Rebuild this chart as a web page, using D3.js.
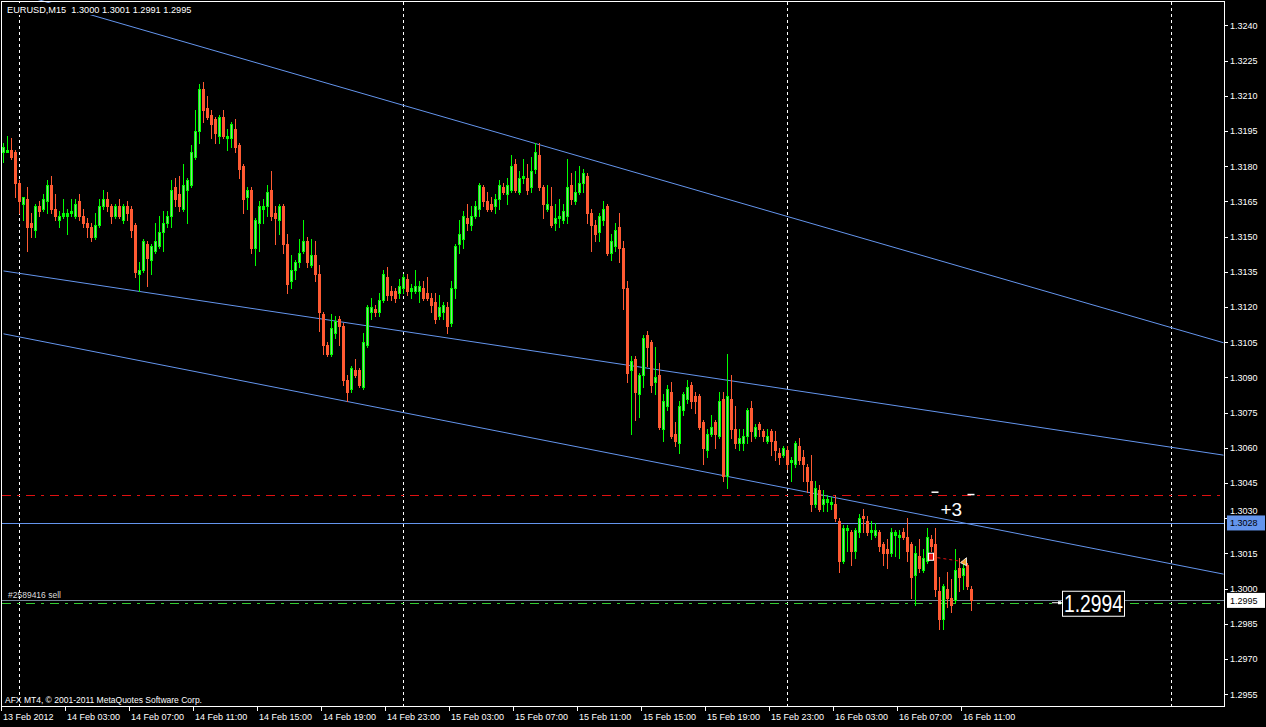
<!DOCTYPE html>
<html><head><meta charset="utf-8">
<script src="https://cdn.jsdelivr.net/npm/d3@7"></script>
<style>html,body{margin:0;padding:0;background:#000;overflow:hidden}</style>
</head><body><svg id="c" width="1266" height="727"></svg>
<script>
// ---- DATA (EURUSD M15, bar 0 = 13 Feb 2012 23:00) ----
const symbolName = "EURUSD,M15";
const openP = [1.3186,1.3186,1.3187,1.3186,1.3173,1.3164,1.3166,1.3156,1.3153,1.3163,
1.3162,1.3165,1.3172,1.3162,1.3157,1.3159,1.3159,1.3160,1.3159,1.3165,
1.3159,1.3156,1.3154,1.3150,1.3155,1.3163,1.3166,1.3163,1.3159,1.3163,
1.3157,1.3163,1.3162,1.3155,1.3134,1.3136,1.3147,1.3140,1.3144,1.3146,
1.3152,1.3156,1.3159,1.3171,1.3168,1.3162,1.3170,1.3172,1.3184,1.3195,
1.3213,1.3205,1.3202,1.3200,1.3193,1.3201,1.3192,1.3192,1.3196,1.3189,
1.3180,1.3167,1.3170,1.3145,1.3156,1.3162,1.3163,1.3170,1.3160,1.3157,
1.3163,1.3147,1.3131,1.3136,1.3139,1.3144,1.3148,1.3138,1.3142,1.3134,
1.3117,1.3104,1.3100,1.3109,1.3115,1.3112,1.3089,1.3085,1.3093,1.3093,
1.3086,1.3104,1.3118,1.3119,1.3118,1.3123,1.3133,1.3127,1.3127,1.3126,
1.3128,1.3132,1.3127,1.3127,1.3127,1.3128,1.3126,1.3124,1.3122,1.3116,
1.3118,1.3120,1.3113,1.3128,1.3147,1.3149,1.3158,1.3155,1.3159,1.3162,
1.3171,1.3165,1.3164,1.3163,1.3166,1.3171,1.3168,1.3170,1.3181,1.3169,
1.3175,1.3175,1.3171,1.3179,1.3185,1.3171,1.3162,1.3163,1.3156,1.3158,
1.3157,1.3159,1.3172,1.3165,1.3169,1.3173,1.3176,1.3160,1.3155,1.3152,
1.3157,1.3163,1.3143,1.3146,1.3154,1.3145,1.3128,1.3093,1.3098,1.3083,
1.3091,1.3108,1.3105,1.3088,1.3091,1.3068,1.3078,1.3084,1.3066,1.3062,
1.3076,1.3081,1.3087,1.3082,1.3082,1.3071,1.3059,1.3066,1.3071,1.3065,
1.3081,1.3048,1.3081,1.3068,1.3062,1.3062,1.3065,1.3077,1.3065,1.3070,
1.3067,1.3063,1.3067,1.3063,1.3058,1.3057,1.3059,1.3054,1.3053,1.3061,
1.3056,1.3052,1.3046,1.3036,1.3042,1.3036,1.3037,1.3036,1.3036,1.3029,
1.3012,1.3025,1.3024,1.3016,1.3024,1.3031,1.3029,1.3024,1.3023,1.3024,
1.3019,1.3017,1.3015,1.3023,1.3022,1.3024,1.3022,1.3019,1.3006,1.3014,
1.3008,1.3012,1.3021,1.3019,1.2999,1.2987,1.3000,1.2996,1.2995,1.3009,
1.3006,1.3010,1.3000];
const highP = [1.3190,1.3193,1.3192,1.3187,1.3174,1.3167,1.3171,1.3160,1.3164,1.3165,
1.3168,1.3174,1.3176,1.3168,1.3161,1.3166,1.3162,1.3166,1.3166,1.3168,
1.3162,1.3158,1.3156,1.3160,1.3166,1.3170,1.3169,1.3164,1.3164,1.3166,
1.3164,1.3165,1.3163,1.3156,1.3139,1.3149,1.3148,1.3147,1.3156,1.3159,
1.3161,1.3161,1.3174,1.3175,1.3176,1.3181,1.3175,1.3189,1.3204,1.3215,
1.3216,1.3210,1.3204,1.3201,1.3202,1.3204,1.3196,1.3199,1.3200,1.3190,
1.3181,1.3171,1.3171,1.3158,1.3165,1.3166,1.3172,1.3178,1.3163,1.3164,
1.3164,1.3151,1.3142,1.3140,1.3149,1.3157,1.3150,1.3149,1.3148,1.3138,
1.3118,1.3105,1.3117,1.3116,1.3116,1.3113,1.3091,1.3095,1.3098,1.3094,
1.3109,1.3121,1.3124,1.3121,1.3126,1.3136,1.3137,1.3129,1.3128,1.3132,
1.3134,1.3134,1.3130,1.3136,1.3131,1.3131,1.3133,1.3126,1.3126,1.3125,
1.3122,1.3122,1.3131,1.3147,1.3157,1.3161,1.3164,1.3163,1.3165,1.3173,
1.3172,1.3169,1.3167,1.3168,1.3174,1.3173,1.3175,1.3185,1.3183,1.3178,
1.3183,1.3181,1.3184,1.3190,1.3190,1.3172,1.3172,1.3171,1.3164,1.3166,
1.3164,1.3183,1.3177,1.3178,1.3180,1.3179,1.3177,1.3162,1.3157,1.3160,
1.3165,1.3164,1.3151,1.3156,1.3160,1.3148,1.3131,1.3099,1.3099,1.3092,
1.3108,1.3110,1.3106,1.3103,1.3096,1.3083,1.3087,1.3088,1.3071,1.3080,
1.3084,1.3089,1.3088,1.3084,1.3083,1.3072,1.3068,1.3074,1.3072,1.3084,
1.3084,1.3100,1.3091,1.3078,1.3068,1.3068,1.3077,1.3080,1.3070,1.3071,
1.3068,1.3068,1.3068,1.3067,1.3060,1.3061,1.3061,1.3056,1.3063,1.3064,
1.3059,1.3053,1.3057,1.3046,1.3044,1.3042,1.3040,1.3039,1.3040,1.3030,
1.3027,1.3027,1.3025,1.3026,1.3032,1.3034,1.3031,1.3029,1.3028,1.3025,
1.3020,1.3021,1.3026,1.3025,1.3025,1.3026,1.3030,1.3020,1.3018,1.3021,
1.3017,1.3026,1.3023,1.3026,1.3005,1.3002,1.3007,1.3004,1.3017,1.3013,
1.3012,1.3011,1.3001];
const lowP = [1.3182,1.3186,1.3183,1.3167,1.3160,1.3157,1.3144,1.3150,1.3150,1.3159,
1.3161,1.3160,1.3160,1.3157,1.3154,1.3158,1.3151,1.3159,1.3158,1.3157,
1.3154,1.3150,1.3148,1.3149,1.3154,1.3162,1.3161,1.3156,1.3158,1.3158,
1.3156,1.3157,1.3150,1.3133,1.3127,1.3135,1.3129,1.3134,1.3143,1.3145,
1.3144,1.3154,1.3154,1.3163,1.3161,1.3161,1.3156,1.3171,1.3183,1.3190,
1.3199,1.3200,1.3192,1.3190,1.3190,1.3192,1.3187,1.3188,1.3186,1.3175,
1.3160,1.3162,1.3143,1.3138,1.3144,1.3156,1.3159,1.3157,1.3147,1.3151,
1.3143,1.3126,1.3128,1.3132,1.3137,1.3143,1.3137,1.3137,1.3131,1.3110,
1.3100,1.3099,1.3099,1.3107,1.3104,1.3087,1.3080,1.3084,1.3090,1.3086,
1.3085,1.3103,1.3115,1.3116,1.3116,1.3122,1.3123,1.3123,1.3122,1.3124,
1.3126,1.3125,1.3124,1.3126,1.3122,1.3123,1.3123,1.3118,1.3113,1.3115,
1.3115,1.3109,1.3112,1.3124,1.3143,1.3145,1.3153,1.3153,1.3158,1.3159,
1.3163,1.3161,1.3161,1.3160,1.3162,1.3168,1.3164,1.3169,1.3169,1.3168,
1.3173,1.3168,1.3169,1.3177,1.3170,1.3158,1.3161,1.3154,1.3153,1.3154,
1.3156,1.3156,1.3164,1.3164,1.3168,1.3169,1.3156,1.3144,1.3148,1.3148,
1.3155,1.3142,1.3140,1.3144,1.3139,1.3119,1.3088,1.3066,1.3072,1.3073,
1.3086,1.3095,1.3084,1.3083,1.3068,1.3063,1.3076,1.3064,1.3061,1.3058,
1.3074,1.3079,1.3077,1.3075,1.3068,1.3053,1.3056,1.3065,1.3060,1.3064,
1.3046,1.3043,1.3064,1.3060,1.3059,1.3059,1.3062,1.3063,1.3064,1.3065,
1.3063,1.3062,1.3057,1.3055,1.3053,1.3056,1.3051,1.3046,1.3052,1.3053,
1.3046,1.3041,1.3033,1.3035,1.3033,1.3033,1.3033,1.3034,1.3029,1.3007,
1.3011,1.3016,1.3010,1.3013,1.3022,1.3024,1.3023,1.3021,1.3022,1.3016,
1.3010,1.3009,1.3014,1.3014,1.3013,1.3021,1.3012,1.2996,1.2993,1.3007,
1.3007,1.3011,1.3016,1.2997,1.2983,1.2983,1.2992,1.2990,1.2994,1.2999,
1.3000,1.3000,1.2991];
const closeP = [1.3188,1.3187,1.3184,1.3173,1.3165,1.3167,1.3154,1.3154,1.3163,1.3161,
1.3166,1.3172,1.3162,1.3159,1.3159,1.3160,1.3160,1.3161,1.3164,1.3159,
1.3156,1.3154,1.3150,1.3155,1.3163,1.3166,1.3163,1.3159,1.3163,1.3159,
1.3163,1.3160,1.3153,1.3135,1.3136,1.3148,1.3141,1.3146,1.3148,1.3152,
1.3156,1.3159,1.3170,1.3166,1.3163,1.3172,1.3174,1.3186,1.3195,1.3213,
1.3204,1.3201,1.3198,1.3194,1.3201,1.3193,1.3193,1.3198,1.3188,1.3179,
1.3166,1.3170,1.3145,1.3157,1.3163,1.3163,1.3169,1.3159,1.3158,1.3163,
1.3147,1.3130,1.3136,1.3139,1.3143,1.3148,1.3139,1.3142,1.3134,1.3118,
1.3104,1.3100,1.3111,1.3114,1.3112,1.3089,1.3084,1.3094,1.3091,1.3087,
1.3105,1.3120,1.3120,1.3118,1.3123,1.3134,1.3125,1.3125,1.3124,1.3129,
1.3133,1.3127,1.3128,1.3129,1.3129,1.3124,1.3124,1.3121,1.3115,1.3120,
1.3121,1.3112,1.3128,1.3146,1.3151,1.3159,1.3156,1.3159,1.3163,1.3172,
1.3165,1.3162,1.3162,1.3166,1.3172,1.3169,1.3172,1.3180,1.3170,1.3175,
1.3176,1.3170,1.3178,1.3186,1.3171,1.3164,1.3164,1.3155,1.3158,1.3159,
1.3161,1.3171,1.3166,1.3169,1.3173,1.3177,1.3160,1.3155,1.3151,1.3159,
1.3162,1.3143,1.3148,1.3153,1.3145,1.3128,1.3092,1.3097,1.3084,1.3091,
1.3107,1.3103,1.3087,1.3090,1.3069,1.3080,1.3085,1.3065,1.3063,1.3078,
1.3083,1.3086,1.3080,1.3080,1.3069,1.3060,1.3066,1.3069,1.3066,1.3080,
1.3048,1.3082,1.3068,1.3062,1.3064,1.3065,1.3076,1.3067,1.3069,1.3068,
1.3065,1.3065,1.3063,1.3059,1.3056,1.3060,1.3053,1.3055,1.3062,1.3055,
1.3053,1.3046,1.3036,1.3043,1.3034,1.3038,1.3038,1.3037,1.3030,1.3012,
1.3026,1.3026,1.3016,1.3025,1.3030,1.3030,1.3024,1.3025,1.3025,1.3018,
1.3015,1.3015,1.3024,1.3024,1.3023,1.3022,1.3016,1.3005,1.3015,1.3009,
1.3013,1.3022,1.3018,1.3000,1.2987,1.3001,1.2996,1.2993,1.3008,1.3005,
1.3009,1.3001,1.2995];

const timeLabels = ["13 Feb 2012","14 Feb 03:00","14 Feb 07:00","14 Feb 11:00","14 Feb 15:00","14 Feb 19:00","14 Feb 23:00","15 Feb 03:00","15 Feb 07:00","15 Feb 11:00","15 Feb 15:00","15 Feb 19:00","15 Feb 23:00","16 Feb 03:00","16 Feb 07:00","16 Feb 11:00"];
const timeLabelBars = [0,16,32,48,64,80,96,112,128,144,160,176,192,208,224,240];
const gridBars = [4,100,196,292];
const priceTicks = [1.3240,1.3225,1.3210,1.3195,1.3180,1.3165,1.3150,1.3135,1.3120,1.3105,1.3090,1.3075,1.3060,1.3045,1.3030,1.3015,1.3000,1.2985,1.2970,1.2955];

// trend lines: start/end bar and price
const trendStartBar = [0,0,0];
const trendStartPrice = [1.32553,1.31354,1.31086];
const trendEndBar = [305,305,305];
const trendEndPrice = [1.31048,1.30569,1.30062];

const hlinePrice = 1.3028;      // horizontal line object
const stopPrice = 1.3040;       // red dash-dot
const orderPrice = 1.2994;      // sell order line
const bidPrice = 1.2995;        // bid line
const orderLabel = "#2589416 sell";
const profitText = "+3";
const textObjPrice = 1.2994;
// closed trade
const tradeBars = [232,240];
const tradePrices = [1.30136,1.30115];

// ---- LAYOUT ----
const W=1266, H=727;
const L=2, R=1224, T=2, B=706;
const x = d3.scaleLinear().domain([0,305]).range([3.5,1223.5]);
const y = d3.scaleLinear().domain([1.2950,1.3250]).range([B,T]);
const fmt = d3.format(".4f");
const FONT = "'Liberation Sans', Arial, sans-serif";
const BLUE = "#6495ED", RED="#ff5a32", GREEN="#00ff00";

const svg = d3.select("#c");
svg.append("rect").attr("width",W).attr("height",H).attr("fill","#000");
svg.append("defs").append("clipPath").attr("id","plot")
  .append("rect").attr("x",L).attr("y",0).attr("width",R-L).attr("height",B);

const g = svg.append("g").attr("clip-path","url(#plot)");

// grid
g.selectAll(".grid").data(gridBars).join("line")
  .attr("x1",d=>x(d)).attr("x2",d=>x(d)).attr("y1",T).attr("y2",B)
  .attr("stroke","#fff").attr("stroke-dasharray","3,3").attr("shape-rendering","crispEdges");

// horizontal lines
function hline(p,color,dash){
  g.append("line").attr("x1",L).attr("x2",R).attr("y1",Math.round(y(p))+0.5).attr("y2",Math.round(y(p))+0.5)
   .attr("stroke",color).attr("stroke-dasharray",dash||null).attr("shape-rendering","crispEdges");
}
hline(stopPrice,"#e01010","9,6,3,6");
hline(hlinePrice,BLUE);
hline(bidPrice,"#778899");
hline(orderPrice,"#32cd32","9,6,3,6");

// trend lines
g.selectAll(".trend").data(d3.range(trendStartBar.length)).join("line")
  .attr("x1",i=>x(trendStartBar[i])).attr("y1",i=>y(trendStartPrice[i]))
  .attr("x2",i=>x(trendEndBar[i])).attr("y2",i=>y(trendEndPrice[i]))
  .attr("stroke",BLUE).attr("stroke-width",1);

// candles
const bars = d3.range(openP.length).map(i=>({i,o:openP[i],h:highP[i],l:lowP[i],c:closeP[i]}));
const cg = g.append("g").attr("shape-rendering","crispEdges");
bars.forEach(d=>{
  const up = d.c>=d.o;
  const col = up?GREEN:RED;
  const cx = x(d.i);
  cg.append("line").attr("x1",cx).attr("x2",cx).attr("y1",y(d.h)).attr("y2",y(d.l)+1).attr("stroke",col);
  const top = y(Math.max(d.o,d.c)), bot = y(Math.min(d.o,d.c));
  const hgt = Math.max(1,bot-top);
  cg.append("rect").attr("x",cx-1.5).attr("y",top).attr("width",3).attr("height",hgt+ (hgt>1?1:0)).attr("fill",col);
  if(up && hgt>3){
    cg.append("rect").attr("x",cx-0.5).attr("y",top+1).attr("width",1).attr("height",hgt-1).attr("fill","#8fd08f");
  }
});

// closed trade
g.append("line").attr("x1",x(tradeBars[0])).attr("y1",y(tradePrices[0]))
  .attr("x2",x(tradeBars[1])).attr("y2",y(tradePrices[1]))
  .attr("stroke","#e01010").attr("stroke-dasharray","3,3");
g.append("rect").attr("x",x(tradeBars[0])-3).attr("y",y(tradePrices[0])-3.5).attr("width",5).attr("height",7)
  .attr("fill","#e01010").attr("stroke","#fff").attr("stroke-width",1);
g.append("path").attr("d",()=>{const cx=x(tradeBars[1])+1, cy=y(tradePrices[1]);return `M${cx-4},${cy+1}L${cx+2},${cy-4}L${cx+2},${cy+4}Z`;})
  .attr("fill","#f0a030").attr("stroke","#fff").attr("stroke-width",0.8);
// stop-level markers
[[tradeBars[0],stopPrice+0.0001],[tradeBars[1]+1,stopPrice]].forEach(([b,p])=>{
  g.append("rect").attr("x",x(b)).attr("y",y(p)-1).attr("width",7).attr("height",1.5).attr("fill","#fff");
});

// texts inside chart
g.append("text").attr("x",x(234)+1).attr("y",y(1.3031)).attr("fill","#fff")
  .attr("font-family",FONT).attr("font-size",19).text(profitText);

svg.append("text").attr("x",8).attr("y",y(orderPrice)-5).attr("fill","#ddd")
  .attr("font-family",FONT).attr("font-size",8.5).text(orderLabel);

// text object 1.2994
const ty = y(textObjPrice);
svg.append("line").attr("x1",1052).attr("x2",1062).attr("y1",ty).attr("y2",ty).attr("stroke","#fff");
svg.append("rect").attr("x",1058).attr("y",ty-1.5).attr("width",3).attr("height",3).attr("fill","#fff");
svg.append("rect").attr("x",1062.5).attr("y",ty-11.5).attr("width",62).attr("height",25)
  .attr("fill","#000").attr("stroke","#fff");
svg.append("text").attr("x",1064).attr("y",ty+9.5).attr("fill","#fff")
  .attr("font-family",FONT).attr("font-size",23)
  .attr("textLength",59).attr("lengthAdjust","spacingAndGlyphs")
  .text(fmt(textObjPrice));

// header
const last = bars[bars.length-1];
svg.append("rect").attr("x",5).attr("y",3).attr("width",189).attr("height",12).attr("fill","#000");
svg.append("text").attr("x",7).attr("y",13).attr("fill","#fff").attr("font-family",FONT).attr("font-size",9.2)
  .attr("xml:space","preserve")
  .text(`${symbolName}  ${fmt(last.o)} ${fmt(last.h)} ${fmt(last.l)} ${fmt(last.c)}`);

// copyright
svg.append("text").attr("x",5).attr("y",703).attr("fill","#fff").attr("font-family",FONT).attr("font-size",8.5)
  .text("AFX MT4, © 2001-2011 MetaQuotes Software Corp.");

// frame
svg.append("rect").attr("x",L-0.5).attr("y",T-0.5).attr("width",R-L+1).attr("height",B-T+1)
  .attr("fill","none").attr("stroke","#fff").attr("shape-rendering","crispEdges");

// price axis (labels hidden behind a price box are shifted out of its way)
const boxPrices = [hlinePrice,bidPrice];
const pa = svg.append("g");
pa.selectAll("line").data(priceTicks).join("line")
  .attr("x1",R).attr("x2",R+4).attr("y1",d=>Math.round(y(d))+0.5).attr("y2",d=>Math.round(y(d))+0.5)
  .attr("stroke","#fff").attr("shape-rendering","crispEdges");
pa.selectAll("text").data(priceTicks).join("text")
  .attr("x",R+6).attr("y",d=>{
    const near = boxPrices.find(b=>Math.abs(y(b)-y(d))<10);
    return near!==undefined ? y(near)-8.5 : y(d)+3.3;
  })
  .attr("fill","#fff").attr("font-family",FONT).attr("font-size",9)
  .text(d=>fmt(d));

function priceBox(p,bg,fg){
  const yy = y(p);
  svg.append("rect").attr("x",R+3).attr("y",yy-7.5).attr("width",38).attr("height",15).attr("fill",bg);
  svg.append("text").attr("x",R+6).attr("y",yy+3.3).attr("fill",fg).attr("font-family",FONT).attr("font-size",9).text(fmt(p));
}
priceBox(hlinePrice,BLUE,"#000");
priceBox(bidPrice,"#fff","#000");

// time axis
const ta = svg.append("g");
ta.selectAll("line").data(timeLabelBars).join("line")
  .attr("x1",d=>Math.floor(x(d))-1.5).attr("x2",d=>Math.floor(x(d))-1.5).attr("y1",B).attr("y2",B+5)
  .attr("stroke","#fff").attr("shape-rendering","crispEdges");
ta.selectAll("text").data(timeLabelBars).join("text")
  .attr("x",d=>x(d)-0.5).attr("y",B+14).attr("fill","#fff").attr("font-family",FONT).attr("font-size",9)
  .text((d,i)=>timeLabels[i]);
</script>
</body></html>
